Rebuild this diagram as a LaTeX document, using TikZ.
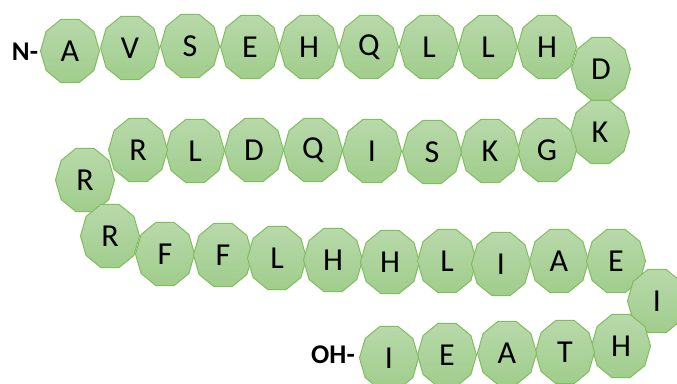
\documentclass[tikz,border=0pt]{standalone}
\usepackage{fontspec}
\setmainfont{Carlito}
\definecolor{restop}{RGB}{184,217,170}
\definecolor{resbot}{RGB}{160,205,140}
\definecolor{resline}{RGB}{128,189,93}
\tikzset{
  decashape/.style={top color=restop, bottom color=resbot, draw=resline, line width=1pt, line join=round},
  deca/.pic={\path[decashape] (0:29.5 and 33.2) -- (36:29.5 and 33.2) -- (72:29.5 and 33.2) -- (108:29.5 and 33.2) -- (144:29.5 and 33.2) -- (180:29.5 and 33.2) -- (216:29.5 and 33.2) -- (252:29.5 and 33.2) -- (288:29.5 and 33.2) -- (324:29.5 and 33.2) -- cycle;},
  reslabel/.style={font=\fontsize{32}{36}\selectfont, text=black, inner sep=0pt},
  endlabel/.style={font=\fontsize{27}{30}\selectfont\bfseries, text=black, inner sep=0pt}
}
\newcommand\resid[4]{\pic at (#2,#3) {deca}; \node[reslabel] (#1) at (#2,#3) {#4};}
\begin{document}
\begin{tikzpicture}[x=1pt,y=-1pt]
\useasboundingbox (0,0) rectangle (677,383);
\clip (0,0) rectangle (677,383);
\node[endlabel] (nterm) at (25,52) {N-};
\resid{r1}{70}{51}{A}
\resid{r2}{130}{48}{V}
\resid{r3}{190}{46}{S}
\resid{r4}{250}{47}{E}
\resid{r5}{309}{47}{H}
\resid{r6}{369}{47}{Q}
\resid{r7}{429}{47}{L}
\resid{r8}{488}{47}{L}
\resid{r9}{547}{47}{H}
\resid{r10}{601}{69}{D}
\resid{r11}{600}{132}{K}
\resid{r12}{547}{150}{G}
\resid{r13}{490}{151}{K}
\resid{r14}{432}{152}{S}
\resid{r15}{372}{151}{I}
\resid{r16}{313}{150}{Q}
\resid{r17}{254}{150}{D}
\resid{r18}{195}{151}{L}
\resid{r19}{138}{150}{R}
\resid{r20}{85}{180}{R}
\resid{r21}{110}{236}{R}
\resid{r22}{165}{254}{F}
\resid{r23}{223}{255}{F}
\resid{r24}{277}{258}{L}
\resid{r25}{333}{260}{H}
\resid{r26}{390}{262}{H}
\resid{r27}{447}{261}{L}
\resid{r28}{501}{264}{I}
\resid{r29}{559}{261}{A}
\resid{r30}{616}{261}{E}
\resid{r31}{657}{301}{I}
\resid{r32}{621}{346}{H}
\resid{r33}{565}{352}{T}
\resid{r34}{507}{353}{A}
\resid{r35}{447}{355}{E}
\resid{r36}{389}{358}{I}
\node[endlabel] (cterm) at (333,355) {OH-};
\end{tikzpicture}
\end{document}
